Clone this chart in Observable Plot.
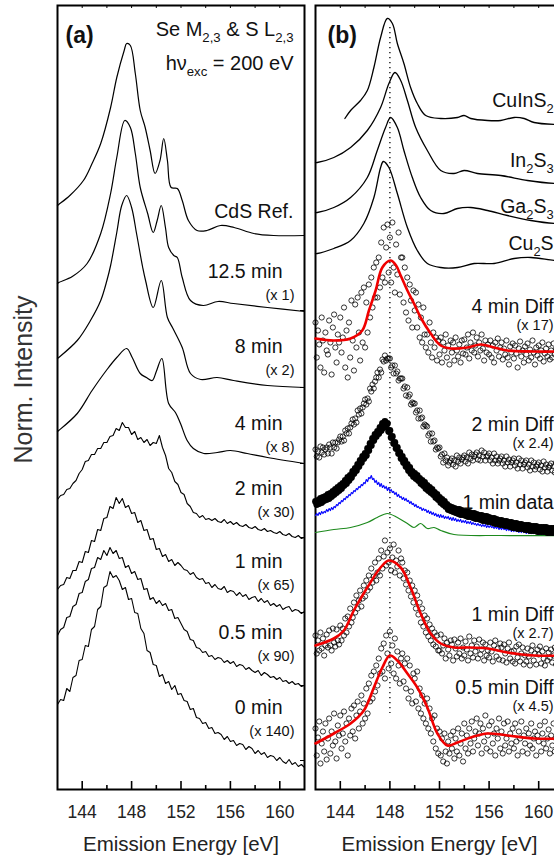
<!DOCTYPE html>
<html>
<head>
<meta charset="utf-8">
<script src="https://cdn.jsdelivr.net/npm/d3@7"></script>
<script src="https://cdn.jsdelivr.net/npm/@observablehq/plot@0.6"></script>
<style>
  html, body { margin: 0; padding: 0; background: #fff; overflow: hidden; }
  #fig { position: relative; width: 554px; height: 859px; overflow: hidden; }
  #fig svg { position: absolute; top: 0; }
</style>
</head>
<body>
<div id="fig"></div>
<script>
// ---------- Energy axis ----------
const xDomain = [142, 162];
const majorTicks = [144, 148, 152, 156, 160];
const minorTicks = [146, 150, 154, 158];
const topTicks = [144, 146, 148, 150, 152, 154, 156, 158, 160];
const rightTicksA = [29, 104, 177, 252, 326, 402, 479];

// ---------- Panel (a): spectra stacked with vertical offsets ----------
const namesA = ["CdS Ref.", "12.5 min", "8 min", "4 min", "2 min", "1 min", "0.5 min", "0 min"];
const factorsA = [null, "(x 1)", "(x 2)", "(x 8)", "(x 30)", "(x 65)", "(x 90)", "(x 140)"];
const offsetsA = [572, 512, 437, 360, 295, 222, 151, 76];

// smooth spectra as [energy eV, intensity relative to offset]
const cdsRef = [[142.0,12],[142.1,13],[143.0,22],[144.1,37],[144.8,54],[145.5,74],[146.3,110],[146.8,140],[147.4,167],[147.6,174],[147.9,172],[148.3,144],[148.7,107],[149.1,90],[149.5,67],[149.9,44],[150.3,57],[150.6,79],[150.9,57],[151.2,30],[151.7,29],[152.1,17],[152.6,-3],[153.3,-13],[154.1,-13],[155.2,-8],[156.3,-10],[157.9,-16],[159.5,-18],[162.0,-18]];
const min12_5 = [[142.0,-6],[142.1,-5],[143.2,1],[144.4,14],[145.5,44],[146.3,84],[146.8,120],[147.45,157],[147.9,150],[148.3,124],[148.7,90],[149.3,64],[149.75,45],[150.07,57],[150.4,72],[150.74,50],[151.0,30],[151.42,22],[151.7,20],[152.1,0],[152.77,-23],[153.8,-28],[155.0,-24],[156.25,-26],[159.0,-30],[162.0,-34]];
const min8 = [[142.0,-6],[142.1,-5],[143.6,12],[144.67,32],[145.5,52],[146.0,72],[146.3,87],[146.8,120],[147.2,147],[147.6,157],[148.0,145],[148.4,119],[148.9,85],[149.13,72],[149.75,45],[150.4,72],[150.9,35],[151.35,24],[152.1,5],[152.77,-21],[153.6,-27],[154.93,-25],[156.25,-28],[159.0,-33],[162.0,-35]];
const min4 = [[142.0,-2],[142.1,-1],[143.6,16],[144.8,39],[145.95,59],[146.8,72],[147.6,81],[148.05,72],[148.7,56],[149.2,52],[149.67,49],[150.0,58],[150.45,71],[151.0,26],[151.55,17],[151.96,6],[152.5,-11],[153.0,-19],[153.85,-24],[154.93,-23],[156.0,-21],[157.36,-24],[159.0,-28],[162.0,-34]];

// noisy spectra sampled every 0.25 eV from 142 eV
const gridStartA = 142, gridStepA = 0.25;
const min2 = [-5,-1,0,5,6,11,14,21,25,33,34,40,40,46,46,52,52,58,59,66,64,72,67,67,60,63,55,57,52,55,49,52,51,59,47,39,26,22,13,10,2,0,-9,-12,-18,-19,-23,-21,-25,-24,-26,-24,-27,-28,-25,-29,-27,-30,-28,-31,-32,-30,-33,-34,-32,-35,-36,-34,-37,-36,-38,-39,-37,-40,-41,-39,-42,-43,-41,-44,-43];
const min1 = [-22,-18,-17,-10,-11,-3,-3,6,5,16,15,27,26,38,37,49,50,61,59,70,64,69,60,62,54,55,45,47,37,38,28,29,18,19,11,13,6,8,2,5,2,-2,-3,-7,-5,-10,-12,-11,-16,-15,-20,-17,-21,-22,-19,-25,-23,-24,-28,-25,-29,-27,-32,-30,-29,-34,-31,-35,-33,-38,-36,-39,-37,-42,-40,-39,-44,-42,-43,-46,-44];
const min0_5 = [3,9,11,21,22,32,34,45,46,57,59,70,71,81,79,88,83,91,85,88,80,81,71,73,65,67,59,60,49,50,39,41,35,38,33,35,28,29,20,21,15,9,7,-1,-2,-9,-10,-14,-13,-18,-17,-21,-19,-20,-24,-22,-25,-23,-28,-26,-27,-31,-29,-32,-34,-32,-37,-34,-36,-39,-38,-41,-39,-43,-42,-45,-43,-46,-45,-48,-47];
const min0 = [9,14,13,25,22,36,38,53,54,68,67,84,87,104,107,126,128,142,136,138,133,124,126,114,115,101,100,85,80,63,61,49,48,37,39,30,32,24,28,19,20,13,12,4,5,-4,-5,-10,-9,-15,-14,-20,-19,-21,-26,-23,-28,-27,-32,-30,-31,-36,-33,-35,-40,-37,-41,-39,-44,-42,-43,-47,-44,-48,-50,-46,-51,-49,-53,-51,-54];

// ---------- Panel (b) ----------
const namesB = ["CuInS_{2}", "In_{2}S_{3}", "Ga_{2}S_{3}", "Cu_{2}S", "4 min Diff", "2 min Diff", "1 min data", "1 min Diff", "0.5 min Diff"];
const factorsB = [null, null, null, null, "(x 17)", "(x 2.4)", null, "(x 2.7)", "(x 4.5)"];
const offsetsB = [683, 623, 577, 540, 477, 359, 281, 169, 96];
const refEnergy = 148.0;

const cuInS2 = [[144.37,-12],[144.83,-4],[145.63,6],[146.18,16],[146.71,39],[147.25,69],[147.79,88],[148.2,83],[148.6,63],[149.13,43],[149.67,19],[150.21,3],[150.89,-9],[152.1,-12],[153.45,-11],[153.98,-9],[154.52,-12],[155.87,-14],[156.94,-14],[158.02,-11],[158.83,-12],[159.63,-16],[161.31,-18],[162.0,-18]];
const in2S3 = [[142.0,4],[142.14,4],[143.48,9],[144.83,19],[146.18,36],[147.25,59],[147.92,83],[148.41,94],[148.87,86],[149.41,66],[150.08,39],[151.02,16],[152.1,-4],[153.17,-7],[153.98,-4],[155.06,-7],[156.94,-9],[159.1,-14],[161.31,-17],[162.0,-17]];
const ga2S3 = [[142.0,0],[142.14,0],[143.48,5],[144.83,15],[146.18,35],[146.98,62],[147.65,85],[148.06,95],[148.6,85],[149.13,62],[149.81,35],[150.48,15],[151.29,2],[152.36,-1],[153.45,4],[154.52,5],[155.87,2],[157.48,-3],[159.37,-8],[161.31,-11],[162.0,-11]];
const cu2S = [[142.0,-4],[142.14,-4],[143.48,1],[144.83,9],[145.9,26],[146.71,52],[147.25,82],[147.47,88],[147.92,82],[148.6,56],[149.41,22],[150.21,-1],[151.02,-14],[152.1,-18],[153.45,-18],[154.79,-14],[156.4,-14],[158.02,-9],[159.37,-8],[161.31,-11],[162.0,-11]];

// measured points sampled every 0.1 eV from 142 eV
const gridStartB = 142, gridStepB = 0.1;
const diff4 = [-10,-45,-18,-32,-55,-5,-28,-60,-20,-38,-42,-8,-30,-62,-15,-2,-35,-50,-22,-30,-5,-40,-25,5,-55,-18,-65,-10,-45,12,-28,-58,8,-35,15,-20,-48,20,-30,25,-35,10,-20,28,-5,35,5,45,15,50,15,55,25,70,35,85,30,65,88,40,75,30,90,45,20,68,38,80,18,55,55,10,45,0,35,-8,28,12,-15,22,2,20,-15,8,-25,-5,-30,5,-22,-35,-22,-40,-10,-30,-45,-20,-35,-25,-48,-28,-42,-25,-50,-30,-38,-22,-45,-33,-52,-28,-40,-30,-48,-25,-38,-44,-32,-50,-28,-41,-27,-42,-35,-22,-46,-30,-38,-20,-40,-33,-25,-44,-30,-38,-22,-36,-48,-28,-40,-32,-42,-28,-45,-33,-50,-30,-38,-26,-44,-35,-30,-47,-36,-42,-28,-45,-52,-34,-40,-31,-46,-33,-41,-55,-36,-29,-44,-38,-50,-34,-42,-31,-48,-37,-45,-28,-40,-52,-35,-43,-33,-46,-38,-30,-49,-41,-36,-44,-32,-47,-38,-45,-31,-42,-36];
const fit4 = [[142.0,-26],[143.48,-28],[144.83,-26],[145.77,-18],[146.31,2],[146.85,22],[147.39,45],[148.06,52],[148.5,47],[148.87,37],[149.41,22],[149.94,9],[150.48,-5],[151.29,-21],[152.1,-33],[152.9,-36],[154.25,-35],[155.33,-32],[156.4,-35],[157.48,-38],[159.63,-39],[162.0,-39]];
const diff2 = [-19,-26,-21,-27,-16,-22,-17,-24,-19,-17,-23,-14,-17,-23,-12,-17,-12,-18,-12,-9,-6,-11,-6,-10,0,-3,2,-3,3,7,11,6,12,8,20,16,22,17,23,27,31,26,32,29,42,39,46,42,49,53,58,53,61,58,71,69,75,70,72,72,72,63,65,57,65,57,59,50,52,52,52,42,44,35,43,34,36,26,28,27,27,18,20,12,20,12,13,4,6,5,4,-5,-3,-11,-3,-11,-10,-19,-17,-18,-17,-26,-24,-32,-23,-30,-27,-35,-32,-30,-28,-34,-30,-36,-25,-31,-27,-33,-29,-27,-25,-31,-27,-33,-22,-28,-24,-30,-26,-24,-22,-29,-25,-30,-20,-26,-22,-30,-26,-25,-23,-30,-27,-33,-23,-30,-26,-33,-30,-28,-26,-33,-30,-36,-26,-32,-29,-36,-32,-30,-28,-35,-32,-38,-28,-34,-30,-38,-34,-32,-30,-37,-34,-40,-30,-36,-32,-39,-36,-34,-32,-39,-35,-41,-31,-37,-34,-41,-37,-35,-33,-40,-36,-42,-32];
const data1 = [7,4,8,5,10,6,11,8,12,9,14,10,15,12,17,14,19,16,21,18,23,20,25,23,28,25,31,28,33,31,37,35,40,38,44,42,48,46,52,50,55,53,60,58,65,63,70,68,74,72,77,75,81,78,85,81,87,83,85,77,78,71,72,65,66,60,61,55,56,50,52,46,48,42,44,38,41,35,37,32,35,30,33,28,30,25,28,23,26,20,23,18,21,16,19,14,16,11,14,9,11,6,9,4,7,2,4,-1,2,-2,1,-3,0,-4,-1,-5,-1,-6,-2,-6,-3,-7,-3,-8,-4,-8,-5,-9,-5,-10,-6,-10,-7,-11,-7,-12,-8,-12,-8,-13,-9,-13,-10,-14,-10,-15,-11,-15,-12,-16,-12,-16,-13,-17,-13,-17,-14,-18,-14,-19,-15,-19,-15,-20,-16,-20,-16,-20,-17,-21,-17,-21,-17,-22,-18,-22,-18,-22,-18,-23,-19,-23,-19,-23,-19,-23,-19,-24,-20,-24,-20,-24,-20,-24,-20];
const data1Blue = [-7,-5,-7,-4,-6,-3,-5,-3,-4,-1,-3,0,-2,1,-1,2,1,4,3,6,5,8,7,10,9,12,11,14,13,16,15,18,17,20,19,22,21,24,23,26,25,29,27,31,30,33,29,30,26,28,24,26,22,25,21,23,20,22,18,21,17,19,16,17,14,16,12,14,11,12,9,11,8,10,7,8,5,7,4,5,2,4,1,2,0,1,-2,0,-2,-1,-4,-2,-5,-3,-6,-4,-7,-5,-8,-6,-9,-6,-9,-7,-10,-8,-10,-8,-11,-9,-12,-9,-12,-10,-13,-11,-13,-11,-14,-12,-14,-12,-15,-13,-15,-13,-16,-14,-16,-15,-17,-15,-17,-16,-18,-16,-18,-16,-19,-17,-19,-17,-19,-18,-20,-18,-20,-18,-21,-19,-21,-19,-21,-20,-22,-20,-22,-20,-23,-21,-23,-21,-23,-21,-24,-22,-24,-22,-24,-22,-25,-23,-25,-23,-25,-23,-25,-23,-25,-24,-26,-24,-26,-24,-26,-24,-26,-24,-26,-24,-26,-24,-26,-24,-26];
const data1Green = [[142.0,-24],[143.48,-21],[144.83,-19],[146.18,-14],[146.98,-9],[147.79,-5],[148.6,-9],[149.41,-15],[149.94,-19],[150.48,-15],[151.02,-20],[151.56,-19],[152.1,-22],[153.17,-26],[156.94,-27],[162.0,-27]];
const diff1 = [-15,-33,-20,-30,-12,-28,-18,-35,-25,-14,-27,-10,-25,-30,-8,-22,-26,-9,-20,-24,-5,-20,-8,-15,2,-12,4,-6,12,-2,3,18,8,25,12,20,30,14,22,35,24,40,30,45,33,52,38,44,58,40,48,62,45,70,52,64,80,55,68,58,72,50,63,76,48,60,54,70,45,62,58,42,50,36,48,30,40,24,35,18,30,12,25,6,18,-2,12,-6,5,-12,2,-16,-4,-20,-8,-24,-12,-26,-15,-30,-30,-14,-33,-25,-18,-38,-22,-29,-35,-20,-24,-40,-19,-28,-36,-22,-33,-18,-38,-27,-35,-21,-29,-40,-16,-33,-25,-37,-20,-31,-26,-38,-19,-34,-29,-22,-40,-24,-35,-30,-37,-22,-31,-41,-25,-20,-36,-28,-39,-23,-27,-40,-24,-33,-42,-28,-22,-38,-31,-41,-30,-43,-26,-37,-24,-41,-33,-27,-44,-35,-41,-28,-36,-45,-30,-25,-40,-33,-44,-29,-34,-26,-43,-31,-38,-45,-28,-40,-32,-37,-29,-42,-35,-27,-44];
const fit1 = [[142.0,-25],[143.48,-18],[144.29,-10],[145.09,10],[146.18,33],[147.25,53],[147.92,60],[148.87,53],[149.67,33],[150.48,7],[151.29,-13],[152.1,-23],[153.17,-27],[154.25,-27],[155.87,-28],[157.48,-32],[159.63,-35],[162.0,-35]];
const diff05 = [-35,-62,-44,-28,-70,-50,-38,-58,-30,-66,-45,-25,-60,-38,-52,-20,-48,-65,-32,-42,-22,-55,-40,-18,-48,-30,-62,-25,-42,-15,-38,-12,-45,-22,-8,-35,-18,-2,-30,-10,-25,5,-20,10,-8,18,-5,22,2,28,8,35,20,45,22,50,15,58,40,25,62,30,48,20,55,15,42,28,10,35,40,12,30,5,35,-5,28,2,-10,20,15,-8,22,-15,5,-20,-2,-25,-10,-30,-5,-35,-15,-40,-25,-48,-22,-55,-35,-60,-38,-62,-45,-68,-40,-58,-70,-48,-60,-42,-55,-38,-65,-45,-58,-35,-62,-50,-40,-68,-30,-55,-42,-60,-35,-50,-28,-58,-45,-38,-25,-52,-40,-30,-60,-35,-48,-22,-55,-42,-32,-58,-28,-50,-40,-62,-35,-45,-25,-55,-38,-60,-30,-52,-45,-28,-58,-40,-50,-35,-55,-30,-48,-62,-38,-45,-28,-58,-42,-50,-35,-60,-40,-52,-30,-55,-45,-38,-62,-42,-48,-32,-58,-40,-50,-28,-55,-45,-36,-60,-42,-52,-30,-58,-45];
const fit05 = [[142.0,-50],[143.48,-40],[144.83,-30],[145.9,-17],[146.71,6],[147.39,26],[148.0,38],[148.6,33],[149.41,20],[150.21,6],[151.02,-14],[151.83,-40],[152.64,-52],[153.45,-49],[154.52,-44],[155.87,-40],[157.48,-42],[159.63,-45],[162.0,-45]];

// ---------- helpers ----------
const FONT = "'Liberation Sans', Arial, Helvetica, sans-serif";
const INK = "#111";
const gridRows = (values, start, step, offset) => values.map((v, i) => ({e: +(start + i * step).toFixed(3), v: offset + v}));
const knotRows = (knots, offset) => knots.map(([e, v]) => ({e, v: offset + v}));

function frameMarks(innerHeight, innerWidth, withRightTicks) {
  const marks = [
    Plot.tickX(majorTicks, {x: d => d, insetTop: innerHeight - 8, stroke: "#000", strokeWidth: 1.6}),
    Plot.tickX(minorTicks, {x: d => d, insetTop: innerHeight - 4, stroke: "#000", strokeWidth: 1.6}),
    Plot.tickX(topTicks, {x: d => d, insetBottom: innerHeight - 3, stroke: "#000", strokeWidth: 1}),
    Plot.frame({stroke: "#000", strokeWidth: 2}),
    Plot.text(majorTicks, {x: d => d, text: d => String(d), frameAnchor: "bottom", dy: 28, lineAnchor: "bottom", fontSize: 17.5, fill: "#222"}),
    Plot.text(["Emission Energy [eV]"], {text: d => d, frameAnchor: "bottom", dy: 61, lineAnchor: "bottom", fontSize: 20.5, fill: "#222"})
  ];
  if (withRightTicks) marks.push(Plot.tickY(rightTicksA, {y: d => d, insetLeft: innerWidth - 4, stroke: "#000", strokeWidth: 1}));
  return marks;
}

// ---------- panel (a) ----------
const smoothA = [cdsRef, min12_5, min8, min4];
const noisyA = [min2, min1, min0_5, min0];
const smoothRowsA = smoothA.flatMap((k, i) => knotRows(k, offsetsA[i]).map(r => ({...r, s: namesA[i]})));
const noisyRowsA = noisyA.flatMap((vals, j) => gridRows(vals, gridStartA, gridStepA, offsetsA[j + 4]).map(r => ({...r, s: namesA[j + 4]})));
const labelRowsA = namesA.map((n, i) => ({n, v: offsetsA[i], e: factorsA[i] ? 160.22 : 161.1}));
const factorRowsA = factorsA.map((f, i) => ({f, v: offsetsA[i] - 22})).filter(d => d.f);

const wA = 310, hAll = 859, mTop = 5, mBottom = 70;
const innerH = hAll - mTop - mBottom;
const svgA = Plot.plot({
  width: wA, height: hAll,
  marginLeft: 57, marginRight: 6, marginTop: mTop, marginBottom: mBottom,
  x: {domain: xDomain, axis: null},
  y: {domain: [0, 784], axis: null},
  style: `font-family: ${FONT}; background: transparent; max-width: none; overflow: visible;`,
  marks: [
    ...frameMarks(innerH, wA - 63, true),
    Plot.line(smoothRowsA, {x: "e", y: "v", z: "s", curve: "catmull-rom", stroke: "#000", strokeWidth: 1.2}),
    Plot.line(noisyRowsA, {x: "e", y: "v", z: "s", stroke: "#000", strokeWidth: 1.1}),
    Plot.text(labelRowsA, {x: "e", y: "v", text: "n", textAnchor: "end", lineAnchor: "bottom", fontSize: 19.5, fill: INK}),
    Plot.text(factorRowsA, {x: 161.19, y: "v", text: "f", textAnchor: "end", lineAnchor: "bottom", fontSize: 14.5, fill: INK}),
    Plot.text(["(a)"], {text: d => d, frameAnchor: "top-left", dx: 8, dy: 37, textAnchor: "start", lineAnchor: "bottom", fontSize: 23, fontWeight: "bold", fill: INK}),
    Plot.text(["Se M_{2,3} & S L_{2,3}"], {text: d => d, frameAnchor: "top-right", dx: -11, dy: 30, textAnchor: "end", lineAnchor: "bottom", fontSize: 20, fill: INK}),
    Plot.text(["h\u03bd_{exc} = 200 eV"], {text: d => d, frameAnchor: "top-right", dx: -11, dy: 64, textAnchor: "end", lineAnchor: "bottom", fontSize: 20, fill: INK}),
    Plot.text(["Norm. Intensity"], {text: d => d, frameAnchor: "left", rotate: -90, textAnchor: "middle", lineAnchor: "middle", dx: -34, dy: -18, fontSize: 25, fill: "#333"})
  ]
});

// ---------- panel (b) ----------
const refsB = [cuInS2, in2S3, ga2S3, cu2S];
const refRowsB = refsB.flatMap((k, i) => knotRows(k, offsetsB[i]).map(r => ({...r, s: namesB[i]})));
const circleRows = [[diff4, 4], [diff2, 5], [diff1, 7], [diff05, 8]].flatMap(([vals, i]) => gridRows(vals, gridStartB, gridStepB, offsetsB[i]));
const fitRows = [[fit4, 4], [fit1, 7], [fit05, 8]].flatMap(([k, i]) => knotRows(k, offsetsB[i]).map(r => ({...r, s: namesB[i]})));
const blackRows = gridRows(data1, gridStartB, gridStepB, offsetsB[6]);
const blueRows = gridRows(data1Blue, gridStartB, gridStepB, offsetsB[6]);
const greenRows = knotRows(data1Green, offsetsB[6]);
const labelRowsB = namesB.map((n, i) => ({n, v: offsetsB[i]}));
const factorRowsB = factorsB.map((f, i) => ({f, v: offsetsB[i] - 17})).filter(d => d.f);

const wB = 265;
const svgB = Plot.plot({
  width: wB, height: hAll,
  marginLeft: 11, marginRight: 6, marginTop: mTop, marginBottom: mBottom,
  x: {domain: xDomain, axis: null},
  y: {domain: [0, 784], axis: null},
  style: `font-family: ${FONT}; background: transparent; max-width: none; overflow: visible;`,
  marks: [
    ...frameMarks(innerH, wB - 17, false),
    Plot.line(refRowsB, {x: "e", y: "v", z: "s", curve: "catmull-rom", stroke: "#000", strokeWidth: 1.3}),
    Plot.ruleX([refEnergy], {insetTop: 22, insetBottom: 76, stroke: "#000", strokeWidth: 1.3, strokeDasharray: "1.2,3.8"}),
    Plot.dot(circleRows, {x: "e", y: "v", r: 2.6, stroke: "#000", strokeWidth: 0.8, fill: "none"}),
    Plot.line(greenRows, {x: "e", y: "v", curve: "catmull-rom", stroke: "#1d8a1d", strokeWidth: 1.2}),
    Plot.line(blueRows, {x: "e", y: "v", stroke: "#0a0aff", strokeWidth: 1.2}),
    Plot.dot(blackRows, {x: "e", y: "v", r: 3.4, fill: "#000", stroke: "none"}),
    Plot.line(fitRows, {x: "e", y: "v", z: "s", curve: "catmull-rom", stroke: "#f00000", strokeWidth: 2.6}),
    Plot.text(labelRowsB, {x: 161.2, y: "v", text: "n", textAnchor: "end", lineAnchor: "bottom", fontSize: 19.5, fill: INK}),
    Plot.text(factorRowsB, {x: 161.2, y: "v", text: "f", textAnchor: "end", lineAnchor: "bottom", fontSize: 14.5, fill: INK}),
    Plot.text(["(b)"], {text: d => d, frameAnchor: "top-left", dx: 12, dy: 37, textAnchor: "start", lineAnchor: "bottom", fontSize: 23, fontWeight: "bold", fill: INK})
  ]
});

const fig = document.getElementById("fig");
svgA.style.left = "0px";
svgB.style.left = "304px";
fig.appendChild(svgA);
fig.appendChild(svgB);

// turn "_{...}" markup into lowered, smaller tspans
function setSubscripts(root) {
  const ns = "http://www.w3.org/2000/svg";
  root.querySelectorAll("text").forEach((node) => {
    const s = node.textContent;
    if (!s.includes("_{")) return;
    const size = parseFloat(getComputedStyle(node).fontSize) || 19;
    const drop = size * 0.33;
    while (node.firstChild) node.removeChild(node.firstChild);
    let lowered = false;
    for (const part of s.split(/(_\{[^}]*\})/)) {
      if (!part) continue;
      const span = document.createElementNS(ns, "tspan");
      if (part.startsWith("_{")) {
        span.textContent = part.slice(2, -1);
        span.setAttribute("font-size", (size * 0.66).toFixed(1));
        if (!lowered) span.setAttribute("dy", drop.toFixed(1));
        lowered = true;
      } else {
        span.textContent = part;
        if (lowered) span.setAttribute("dy", (-drop).toFixed(1));
        lowered = false;
      }
      node.appendChild(span);
    }
  });
}
setSubscripts(fig);
</script>
</body>
</html>
